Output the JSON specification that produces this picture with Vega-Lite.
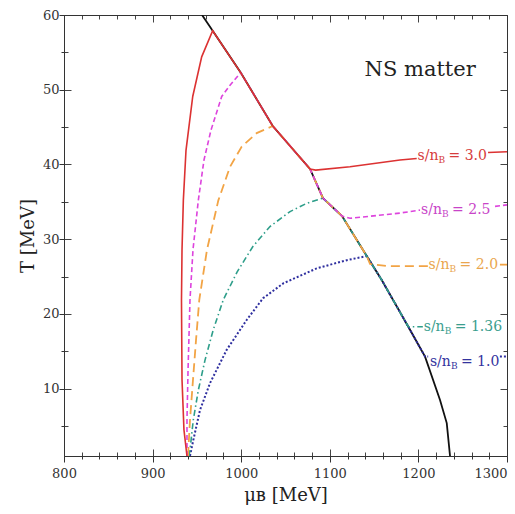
{
  "$schema": "https://vega.github.io/schema/vega-lite/v6.json",
  "width": 443,
  "height": 441,
  "autosize": "none",
  "padding": {"left": 64, "top": 15, "right": 8, "bottom": 58},
  "background": "white",
  "config": {
    "view": {"stroke": null},
    "font": "DejaVu Serif",
    "axis": {
      "domainColor": "#333",
      "domainWidth": 1,
      "tickColor": "#333",
      "tickWidth": 1,
      "gridColor": "#444",
      "gridWidth": 1,
      "gridOpacity": 1,
      "labelColor": "#333",
      "titleColor": "#222",
      "labelFont": "DejaVu Serif",
      "titleFont": "DejaVu Serif",
      "labelFontSize": 13,
      "titleFontSize": 18,
      "titleFontWeight": "normal"
    }
  },
  "datasets": {
    "curves": [
      {"s": "bd", "seg": "a", "mu": 955.8, "T": 60},
      {"s": "bd", "seg": "a", "mu": 967.8, "T": 57.9},
      {"s": "bd", "seg": "a", "mu": 999.4, "T": 52.3},
      {"s": "bd", "seg": "a", "mu": 1035.6, "T": 45.15},
      {"s": "bd", "seg": "a", "mu": 1077.7, "T": 39.4},
      {"s": "bd", "seg": "a", "mu": 1092.3, "T": 35.5},
      {"s": "bd", "seg": "a", "mu": 1113.8, "T": 33.1},
      {"s": "bd", "seg": "a", "mu": 1141.7, "T": 27.75},
      {"s": "bd", "seg": "a", "mu": 1158.6, "T": 24.55},
      {"s": "bd", "seg": "a", "mu": 1188.6, "T": 18.3},
      {"s": "bd", "seg": "a", "mu": 1207.5, "T": 14.3},
      {"s": "bd", "seg": "a", "mu": 1224.4, "T": 8.5},
      {"s": "bd", "seg": "a", "mu": 1232.0, "T": 5.4},
      {"s": "bd", "seg": "a", "mu": 1235.7, "T": 1.0},

      {"s": "3.0", "seg": "a", "mu": 938.8, "T": 1.0},
      {"s": "3.0", "seg": "a", "mu": 935.4, "T": 4.5},
      {"s": "3.0", "seg": "a", "mu": 933.2, "T": 11.2},
      {"s": "3.0", "seg": "a", "mu": 932.6, "T": 21.9},
      {"s": "3.0", "seg": "a", "mu": 933.2, "T": 28.6},
      {"s": "3.0", "seg": "a", "mu": 934.7, "T": 35.2},
      {"s": "3.0", "seg": "a", "mu": 937.7, "T": 41.9},
      {"s": "3.0", "seg": "a", "mu": 945.3, "T": 49.1},
      {"s": "3.0", "seg": "a", "mu": 955.4, "T": 54.4},
      {"s": "3.0", "seg": "a", "mu": 967.8, "T": 57.9},
      {"s": "3.0", "seg": "a", "mu": 999.4, "T": 52.3},
      {"s": "3.0", "seg": "a", "mu": 1035.6, "T": 45.15},
      {"s": "3.0", "seg": "a", "mu": 1077.7, "T": 39.4},
      {"s": "3.0", "seg": "a", "mu": 1084.0, "T": 39.25},
      {"s": "3.0", "seg": "a", "mu": 1122.8, "T": 39.7},
      {"s": "3.0", "seg": "a", "mu": 1179.2, "T": 40.6},
      {"s": "3.0", "seg": "a", "mu": 1198.1, "T": 40.8},
      {"s": "3.0", "seg": "b", "mu": 1278.6, "T": 41.6},
      {"s": "3.0", "seg": "b", "mu": 1300, "T": 41.7},

      {"s": "2.5", "seg": "a", "mu": 938.8, "T": 1.0},
      {"s": "2.5", "seg": "a", "mu": 938.8, "T": 5.8},
      {"s": "2.5", "seg": "a", "mu": 940.0, "T": 12.5},
      {"s": "2.5", "seg": "a", "mu": 942.2, "T": 21.9},
      {"s": "2.5", "seg": "a", "mu": 945.6, "T": 28.6},
      {"s": "2.5", "seg": "a", "mu": 951.6, "T": 35.2},
      {"s": "2.5", "seg": "a", "mu": 958.0, "T": 40.6},
      {"s": "2.5", "seg": "a", "mu": 965.9, "T": 44.6},
      {"s": "2.5", "seg": "a", "mu": 978.0, "T": 49.1},
      {"s": "2.5", "seg": "a", "mu": 987.4, "T": 50.6},
      {"s": "2.5", "seg": "a", "mu": 999.4, "T": 52.3},
      {"s": "2.5", "seg": "a", "mu": 1035.6, "T": 45.15},
      {"s": "2.5", "seg": "a", "mu": 1077.7, "T": 39.4},
      {"s": "2.5", "seg": "a", "mu": 1092.3, "T": 35.5},
      {"s": "2.5", "seg": "a", "mu": 1113.8, "T": 33.1},
      {"s": "2.5", "seg": "a", "mu": 1122.8, "T": 32.8},
      {"s": "2.5", "seg": "a", "mu": 1179.2, "T": 33.5},
      {"s": "2.5", "seg": "a", "mu": 1201.8, "T": 33.9},
      {"s": "2.5", "seg": "b", "mu": 1286.5, "T": 34.4},
      {"s": "2.5", "seg": "b", "mu": 1300, "T": 34.6},

      {"s": "2.0", "seg": "a", "mu": 940.0, "T": 1.0},
      {"s": "2.0", "seg": "a", "mu": 942.2, "T": 5.8},
      {"s": "2.0", "seg": "a", "mu": 945.6, "T": 11.2},
      {"s": "2.0", "seg": "a", "mu": 949.0, "T": 16.5},
      {"s": "2.0", "seg": "a", "mu": 952.7, "T": 21.9},
      {"s": "2.0", "seg": "a", "mu": 961.4, "T": 28.6},
      {"s": "2.0", "seg": "a", "mu": 974.2, "T": 35.2},
      {"s": "2.0", "seg": "a", "mu": 987.4, "T": 39.7},
      {"s": "2.0", "seg": "a", "mu": 1000.6, "T": 42.4},
      {"s": "2.0", "seg": "a", "mu": 1017.5, "T": 44.2},
      {"s": "2.0", "seg": "a", "mu": 1035.6, "T": 45.15},
      {"s": "2.0", "seg": "a", "mu": 1077.7, "T": 39.4},
      {"s": "2.0", "seg": "a", "mu": 1092.3, "T": 35.5},
      {"s": "2.0", "seg": "a", "mu": 1113.8, "T": 33.1},
      {"s": "2.0", "seg": "a", "mu": 1141.7, "T": 27.75},
      {"s": "2.0", "seg": "a", "mu": 1145.4, "T": 26.7},
      {"s": "2.0", "seg": "a", "mu": 1165.0, "T": 26.4},
      {"s": "2.0", "seg": "a", "mu": 1210.8, "T": 26.4},
      {"s": "2.0", "seg": "b", "mu": 1292.0, "T": 26.6},
      {"s": "2.0", "seg": "b", "mu": 1300, "T": 26.6},

      {"s": "1.36", "seg": "a", "mu": 941.1, "T": 1.0},
      {"s": "1.36", "seg": "a", "mu": 942.2, "T": 1.8},
      {"s": "1.36", "seg": "a", "mu": 945.9, "T": 5.8},
      {"s": "1.36", "seg": "a", "mu": 951.6, "T": 9.8},
      {"s": "1.36", "seg": "a", "mu": 959.1, "T": 13.8},
      {"s": "1.36", "seg": "a", "mu": 968.5, "T": 17.9},
      {"s": "1.36", "seg": "a", "mu": 979.8, "T": 21.9},
      {"s": "1.36", "seg": "a", "mu": 995.3, "T": 25.6},
      {"s": "1.36", "seg": "a", "mu": 1013.0, "T": 29.0},
      {"s": "1.36", "seg": "a", "mu": 1032.5, "T": 31.7},
      {"s": "1.36", "seg": "a", "mu": 1055.1, "T": 33.7},
      {"s": "1.36", "seg": "a", "mu": 1073.9, "T": 34.8},
      {"s": "1.36", "seg": "a", "mu": 1092.3, "T": 35.5},
      {"s": "1.36", "seg": "a", "mu": 1113.8, "T": 33.1},
      {"s": "1.36", "seg": "a", "mu": 1141.7, "T": 27.75},
      {"s": "1.36", "seg": "a", "mu": 1158.6, "T": 24.55},
      {"s": "1.36", "seg": "a", "mu": 1188.6, "T": 18.3},
      {"s": "1.36", "seg": "a", "mu": 1205.0, "T": 18.3},

      {"s": "1.0", "seg": "a", "mu": 942.2, "T": 1.0},
      {"s": "1.0", "seg": "a", "mu": 945.9, "T": 3.1},
      {"s": "1.0", "seg": "a", "mu": 953.5, "T": 7.15},
      {"s": "1.0", "seg": "a", "mu": 964.8, "T": 10.75},
      {"s": "1.0", "seg": "a", "mu": 983.6, "T": 15.2},
      {"s": "1.0", "seg": "a", "mu": 1006.2, "T": 19.2},
      {"s": "1.0", "seg": "a", "mu": 1024.6, "T": 22.1},
      {"s": "1.0", "seg": "a", "mu": 1047.5, "T": 24.1},
      {"s": "1.0", "seg": "a", "mu": 1085.2, "T": 26.1},
      {"s": "1.0", "seg": "a", "mu": 1119.1, "T": 27.2},
      {"s": "1.0", "seg": "a", "mu": 1141.7, "T": 27.75},
      {"s": "1.0", "seg": "a", "mu": 1158.6, "T": 24.55},
      {"s": "1.0", "seg": "a", "mu": 1188.6, "T": 18.3},
      {"s": "1.0", "seg": "a", "mu": 1207.5, "T": 14.3},
      {"s": "1.0", "seg": "a", "mu": 1211.0, "T": 14.3},
      {"s": "1.0", "seg": "b", "mu": 1292.0, "T": 14.3},
      {"s": "1.0", "seg": "b", "mu": 1300, "T": 14.3}
    ],
    "labels": [
      {"s": "3.0", "mu": 1199, "T": 41.2, "rest": "= 3.0"},
      {"s": "2.5", "mu": 1203, "T": 33.9, "rest": "= 2.5"},
      {"s": "2.0", "mu": 1211.5, "T": 26.6, "rest": "= 2.0"},
      {"s": "1.36", "mu": 1206, "T": 18.3, "rest": "= 1.36"},
      {"s": "1.0", "mu": 1213, "T": 13.6, "rest": "= 1.0"}
    ],
    "note": [
      {"mu": 1202, "T": 52.6, "txt": "NS matter"}
    ]
  },
  "layer": [
    {
      "data": {"name": "curves"},
      "transform": [{"filter": "datum.s === 'bd'"}],
      "mark": {"type": "line", "stroke": "#111", "strokeWidth": 1.8, "clip": true},
      "encoding": {
        "x": {
          "field": "mu", "type": "quantitative",
          "scale": {"domain": [800, 1300], "nice": false, "zero": false},
          "axis": {
            "orient": "bottom",
            "values": [800,820,840,860,880,900,920,940,960,980,1000,1020,1040,1060,1080,1100,1120,1140,1160,1180,1200,1220,1240,1260,1280,1300],
            "format": "d",
            "labelExpr": "datum.value % 100 === 0 ? datum.label : ''",
            "labelOverlap": false,
            "labelFlush": false,
            "labelBound": false,
            "ticks": true,
            "tickSize": {"condition": {"test": "datum.value % 100 === 0", "value": 6}, "value": 3},
            "labelPadding": 5,
            "labelAlign": {"condition": {"test": "datum.value === 1300", "value": "right"}, "value": "center"},
            "grid": true,
            "gridDash": [4, 433, 4, 100],
            "title": "μʙ [MeV]",
            "titlePadding": 6
          }
        },
        "y": {
          "field": "T", "type": "quantitative",
          "scale": {"domain": [1, 60], "nice": false, "zero": false},
          "axis": {
            "orient": "left",
            "values": [5,10,15,20,25,30,35,40,45,50,55,60],
            "format": "d",
            "labelExpr": "datum.value % 10 === 0 ? datum.label : ''",
            "labelOverlap": false,
            "labelFlush": false,
            "ticks": true,
            "tickSize": {"condition": {"test": "datum.value % 10 === 0", "value": 5}, "value": 3},
            "labelPadding": 0,
            "grid": true,
            "gridDash": [4, 435, 4, 100],
            "title": "T [MeV]",
            "titlePadding": 5
          }
        },
        "detail": {"field": "seg"},
        "order": {"value": null}
      }
    },
    {
      "data": {"name": "curves"},
      "transform": [{"filter": "datum.s === '1.0'"}],
      "mark": {"type": "line", "stroke": "#2f2f9f", "strokeWidth": 2, "strokeDash": [2, 2], "clip": true},
      "encoding": {
        "x": {"field": "mu", "type": "quantitative", "axis": null},
        "y": {"field": "T", "type": "quantitative", "axis": null},
        "detail": {"field": "seg"},
        "order": {"value": null}
      }
    },
    {
      "data": {"name": "curves"},
      "transform": [{"filter": "datum.s === '1.36'"}],
      "mark": {"type": "line", "stroke": "#2e9e8a", "strokeWidth": 1.6, "strokeDash": [6, 3, 1.5, 3], "clip": true},
      "encoding": {
        "x": {"field": "mu", "type": "quantitative", "axis": null},
        "y": {"field": "T", "type": "quantitative", "axis": null},
        "detail": {"field": "seg"},
        "order": {"value": null}
      }
    },
    {
      "data": {"name": "curves"},
      "transform": [{"filter": "datum.s === '2.0'"}],
      "mark": {"type": "line", "stroke": "#f2a445", "strokeWidth": 1.8, "strokeDash": [9, 5], "clip": true},
      "encoding": {
        "x": {"field": "mu", "type": "quantitative", "axis": null},
        "y": {"field": "T", "type": "quantitative", "axis": null},
        "detail": {"field": "seg"},
        "order": {"value": null}
      }
    },
    {
      "data": {"name": "curves"},
      "transform": [{"filter": "datum.s === '2.5'"}],
      "mark": {"type": "line", "stroke": "#dd44dd", "strokeWidth": 1.6, "strokeDash": [5, 3], "clip": true},
      "encoding": {
        "x": {"field": "mu", "type": "quantitative", "axis": null},
        "y": {"field": "T", "type": "quantitative", "axis": null},
        "detail": {"field": "seg"},
        "order": {"value": null}
      }
    },
    {
      "data": {"name": "curves"},
      "transform": [{"filter": "datum.s === '3.0'"}],
      "mark": {"type": "line", "stroke": "#dc3232", "strokeWidth": 1.6, "clip": true},
      "encoding": {
        "x": {"field": "mu", "type": "quantitative", "axis": null},
        "y": {"field": "T", "type": "quantitative", "axis": null},
        "detail": {"field": "seg"},
        "order": {"value": null}
      }
    },
    {
      "data": {"name": "labels"},
      "mark": {"type": "text", "text": "s/n", "align": "left", "baseline": "middle", "fontSize": 14, "font": "DejaVu Serif"},
      "encoding": {
        "x": {"field": "mu", "type": "quantitative", "axis": null},
        "y": {"field": "T", "type": "quantitative", "axis": null},
        "color": {"field": "s", "type": "nominal", "legend": null, "scale": {"domain": ["3.0", "2.5", "2.0", "1.36", "1.0"], "range": ["#d63c3c", "#c844c8", "#eaa64e", "#3a9e8e", "#33339e"]}}
      }
    },
    {
      "data": {"name": "labels"},
      "mark": {"type": "text", "text": "B", "align": "left", "baseline": "middle", "fontSize": 9, "dx": 21, "dy": 4, "font": "DejaVu Serif"},
      "encoding": {
        "x": {"field": "mu", "type": "quantitative", "axis": null},
        "y": {"field": "T", "type": "quantitative", "axis": null},
        "color": {"field": "s", "type": "nominal", "legend": null}
      }
    },
    {
      "data": {"name": "labels"},
      "mark": {"type": "text", "align": "left", "baseline": "middle", "fontSize": 14, "dx": 31, "font": "DejaVu Serif"},
      "encoding": {
        "x": {"field": "mu", "type": "quantitative", "axis": null},
        "y": {"field": "T", "type": "quantitative", "axis": null},
        "text": {"field": "rest"},
        "color": {"field": "s", "type": "nominal", "legend": null}
      }
    },
    {
      "data": {"name": "note"},
      "mark": {"type": "text", "align": "center", "baseline": "middle", "fontSize": 21, "color": "#222", "font": "DejaVu Serif"},
      "encoding": {
        "x": {
          "field": "mu", "type": "quantitative",
          "axis": {
            "orient": "top",
            "values": [800,900,1000,1100,1200,1300],
            "labels": false,
            "ticks": false,
            "title": null,
            "grid": true,
            "gridDash": [7, 427, 7, 100]
          }
        },
        "y": {
          "field": "T", "type": "quantitative",
          "axis": {
            "orient": "right",
            "values": [10,20,30,40,50,60],
            "labels": false,
            "ticks": false,
            "title": null,
            "grid": true,
            "gridDash": [7, 429, 7, 100]
          }
        },
        "text": {"field": "txt"}
      }
    }
  ],
  "resolve": {"axis": {"x": "independent", "y": "independent"}}
}
